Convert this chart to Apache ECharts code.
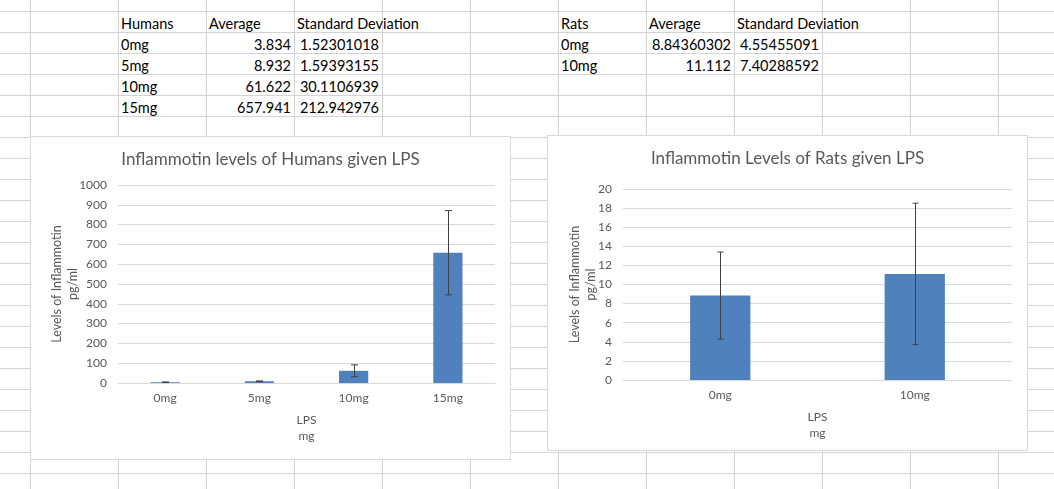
<!DOCTYPE html>
<html><head><meta charset="utf-8">
<script src="https://cdn.jsdelivr.net/npm/echarts@6/dist/echarts.min.js"></script>
<style>
html,body{margin:0;padding:0;background:#fff;width:1054px;height:489px;overflow:hidden;position:relative;font-family:Lato,'Noto Sans',sans-serif;}
.h{position:absolute;left:0;width:1054px;height:1px;background:#d4d4d4;z-index:0;}
.v{position:absolute;top:0;height:489px;width:1px;background:#d4d4d4;z-index:0;}
.t{position:absolute;height:21px;line-height:25px;font-size:14.5px;color:#000;white-space:nowrap;z-index:1;}
.chart{position:absolute;background:#fff;border:1px solid #d9d9d9;box-sizing:border-box;z-index:2;}
</style></head><body>
<div id="c1" class="chart" style="left:30px;top:136px;width:481px;height:324px"></div>
<div id="c2" class="chart" style="left:547px;top:135px;width:481px;height:316px"></div>
<script>
// ---- data ----
const humanCategories = ['0mg', '5mg', '10mg', '15mg'];
const humanAverage = [3.834, 8.932, 61.622, 657.941];
const humanSD = [1.52301018, 1.59393155, 30.1106939, 212.942976];
const ratCategories = ['0mg', '10mg'];
const ratAverage = [8.84360302, 11.112];
const ratSD = [4.55455091, 7.40288592];
const tableHeaders = ['Average', 'Standard Deviation'];
const humanTitle = 'Inflammotin levels of Humans given LPS';
const ratTitle = 'Inflammotin Levels of Rats given LPS';
const xName = 'LPS\nmg';
const yName = 'Levels of Inflammotin\npg/ml';

// ---- spreadsheet background ----
const body = document.body;
for (let k = 0; k < 23; k++) {
  const d = document.createElement('div'); d.className = 'h'; d.style.top = (11 + 21 * k) + 'px'; body.appendChild(d);
}
for (let k = 0; k < 12; k++) {
  const d = document.createElement('div'); d.className = 'v'; d.style.left = (30 + 88 * k) + 'px'; body.appendChild(d);
}
function cell(text, colLeft, rowTop, align) {
  const d = document.createElement('div'); d.className = 't';
  d.textContent = text;
  d.style.top = rowTop + 'px';
  if (align === 'right') { d.style.right = (1054 - (colLeft + 88) + 3) + 'px'; }
  else { d.style.left = (colLeft + 3) + 'px'; }
  body.appendChild(d);
}
function table(label, cats, avg, sd, col0) {
  cell(label, col0, 11, 'left');
  cell(tableHeaders[0], col0 + 88, 11, 'left');
  cell(tableHeaders[1], col0 + 176, 11, 'left');
  cats.forEach((c, i) => {
    const top = 32 + 21 * i;
    cell(c, col0, top, 'left');
    cell(String(avg[i]), col0 + 88, top, 'right');
    cell(String(sd[i]), col0 + 176, top, 'right');
  });
}
table('Humans', humanCategories, humanAverage, humanSD, 118);
table('Rats', ratCategories, ratAverage, ratSD, 558);

// ---- charts ----
const FONT = 'Lato';
const GREY = '#595959';
function makeOption(title, cats, avg, sd, yMax, yInt, grid, yGap, cap) {
  return {
    animation: false,
    title: { text: title, left: 'center', top: 9, textStyle: { fontFamily: FONT, fontSize: 17, fontWeight: 'normal', color: GREY } },
    grid: grid,
    xAxis: {
      type: 'category', data: cats,
      axisLine: { lineStyle: { color: '#d9d9d9' } }, axisTick: { show: false },
      axisLabel: { color: GREY, fontFamily: FONT, fontSize: 12, margin: 9 },
      name: xName, nameLocation: 'middle', nameGap: 29, nameMoveOverlap: false,
      nameTextStyle: { color: GREY, fontFamily: FONT, fontSize: 12, lineHeight: 16 }
    },
    yAxis: {
      type: 'value', min: 0, max: yMax, interval: yInt,
      axisLine: { show: false }, axisTick: { show: false },
      splitLine: { lineStyle: { color: '#d9d9d9' } },
      axisLabel: { color: GREY, fontFamily: FONT, fontSize: 12, margin: 11, formatter: v => String(v) },
      name: yName, nameLocation: 'middle', nameGap: yGap, nameRotate: 90, nameMoveOverlap: false,
      nameTextStyle: { color: GREY, fontFamily: FONT, fontSize: 12.5, lineHeight: 16 }
    },
    series: [
      { type: 'bar', data: avg, barWidth: '31%', itemStyle: { color: '#4f81bd' } },
      {
        type: 'custom', z: 10,
        data: avg.map((a, i) => [i, a - sd[i], a + sd[i]]),
        encode: { x: 0, y: [1, 2] },
        renderItem: function (params, api) {
          const x = api.value(0);
          const lo = api.coord([x, api.value(1)]);
          const hi = api.coord([x, api.value(2)]);
          const cx = Math.round(lo[0]) + 0.5;
          const st = { stroke: '#404040', lineWidth: 1 };
          return {
            type: 'group', children: [
              { type: 'line', shape: { x1: cx, y1: lo[1], x2: cx, y2: hi[1] }, style: st },
              { type: 'line', shape: { x1: cx - cap, y1: lo[1], x2: cx + cap, y2: lo[1] }, style: st },
              { type: 'line', shape: { x1: cx - cap, y1: hi[1], x2: cx + cap, y2: hi[1] }, style: st }
            ]
          };
        }
      }
    ]
  };
}
const c1 = echarts.init(document.getElementById('c1'));
c1.setOption(makeOption(humanTitle, humanCategories, humanAverage, humanSD, 1000, 100,
  { left: 87, right: 15, top: 48, bottom: 76 }, 37, 3.5));
const c2 = echarts.init(document.getElementById('c2'));
c2.setOption(makeOption(ratTitle, ratCategories, ratAverage, ratSD, 20, 2,
  { left: 75, right: 15, top: 53, bottom: 70 }, 24, 3));
</script>
</body></html>
